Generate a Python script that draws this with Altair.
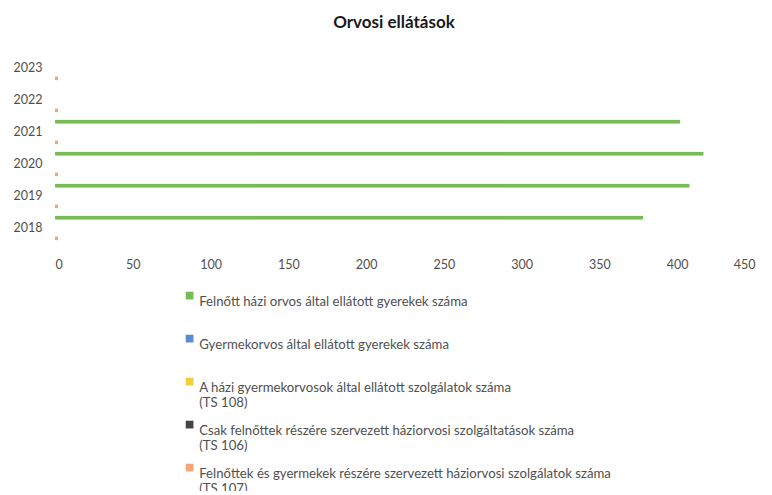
import altair as alt
import pandas as pd

years = ["2018", "2019", "2020", "2021", "2022", "2023"]
series = [
    "Felnőtt házi orvos által ellátott gyerekek száma",
    "Gyermekorvos által ellátott gyerekek száma",
    "A házi gyermekorvosok által ellátott szolgálatok száma (TS 108)",
    "Csak felnőttek részére szervezett háziorvosi szolgáltatások száma (TS 106)",
    "Felnőttek és gyermekek részére szervezett háziorvosi szolgálatok száma (TS 107)",
]
colors = ["#77BB55", "#5B8BD5", "#F2CF3C", "#444444", "#F7A578"]
values = {
    series[0]: [378, 408, 417, 402, 0, 0],
    series[1]: [0, 0, 0, 0, 0, 0],
    series[2]: [0, 0, 0, 0, 0, 0],
    series[3]: [0, 0, 0, 0, 0, 0],
    series[4]: [2, 2, 2, 2, 2, 2],
}
x_ticks = [0, 50, 100, 150, 200, 250, 300, 350, 400, 450]

rows = []
for s in series:
    for y, v in zip(years, values[s]):
        rows.append({"year": y, "series": s, "value": v})
df = pd.DataFrame(rows)

label_expr = (
    "indexof(datum.label, ' (TS') > 0 ? "
    "[substring(datum.label, 0, indexof(datum.label, ' (TS')), "
    "substring(datum.label, indexof(datum.label, ' (TS') + 1)] : [datum.label, '']"
)

chart = (
    alt.Chart(df)
    .mark_bar(cornerRadius=1)
    .encode(
        x=alt.X(
            "value:Q",
            scale=alt.Scale(domain=[0, 450], nice=False),
            axis=alt.Axis(
                values=x_ticks, title=None, grid=False, domain=False, ticks=False,
                labelPadding=14, labelFontSize=12.5, labelColor="#505050",
                labelFont="Lato",
            ),
        ),
        y=alt.Y(
            "year:N",
            sort=years[::-1],
            scale=alt.Scale(paddingInner=0, paddingOuter=0),
            axis=alt.Axis(
                title=None, grid=False, domain=False, ticks=False,
                labelPadding=13, labelFontSize=12.5, labelColor="#505050",
                labelFont="Lato",
            ),
        ),
        yOffset=alt.YOffset(
            "series:N", sort=series,
            scale=alt.Scale(paddingInner=0.2, paddingOuter=0.7),
        ),
        color=alt.Color(
            "series:N",
            sort=series,
            scale=alt.Scale(domain=series, range=colors),
            legend=alt.Legend(
                title=None, orient="none", legendX=128, legendY=237,
                direction="vertical", symbolType="square", symbolSize=60,
                labelFontSize=13.2, labelColor="#505050", labelFont="Lato",
                labelExpr=label_expr, labelLimit=600, rowPadding=9,
                labelBaseline="top", labelOffset=3,
            ),
        ),
    )
    .properties(
        width=700,
        height=192,
        title=alt.TitleParams(
            "Orvosi ellátások", fontSize=17, fontWeight="bold",
            font="Lato", color="#1a1a1a", anchor="middle", dx=-11, offset=20,
        ),
        autosize=alt.AutoSizeParams(type="none"),
        padding={"left": 47, "top": 44, "right": 9, "bottom": 247},
    )
    .configure_view(stroke=None)
)

chart.save("out.html", embed_options={"renderer": "svg", "actions": False})
